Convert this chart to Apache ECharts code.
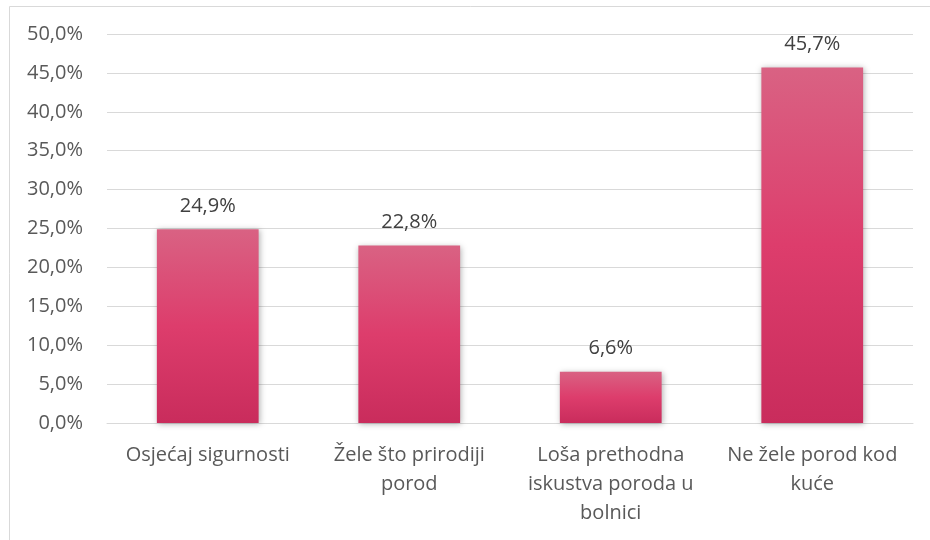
<!DOCTYPE html>
<html>
<head>
<meta charset="utf-8">
<script src="https://cdn.jsdelivr.net/npm/echarts@6/dist/echarts.min.js"></script>
<style>html,body{margin:0;padding:0;background:#fff}#c{width:930px;height:540px}</style>
</head>
<body>
<div id="c"></div>
<script>
var categories = ["Osjećaj sigurnosti", "Žele što prirodiji\nporod", "Loša prethodna\niskustva poroda u\nbolnici", "Ne žele porod kod\nkuće"];
var values = [24.9, 22.8, 6.6, 45.7];
var yMin = 0, yMax = 50, yStep = 5;

var chart = echarts.init(document.getElementById('c'), null, {renderer: 'canvas'});
var font = '"Open Sans", "Noto Sans", sans-serif';
chart.setOption({
  animation: false,
  backgroundColor: '#fff',
  graphic: [{
    type: 'rect', left: 7, top: 4, shape: {x: 0, y: 0, width: 940, height: 560},
    style: {fill: 'none', stroke: '#d9d9d9', lineWidth: 1}, silent: true
  }],
  grid: {left: 107, right: 17, top: 34, bottom: 117},
  xAxis: {
    type: 'category', data: categories,
    axisLine: {show: true, lineStyle: {color: '#d9d9d9', width: 1}},
    axisTick: {show: false},
    axisLabel: {color: '#595959', fontSize: 20, fontFamily: font, lineHeight: 29, margin: 18, interval: 0}
  },
  yAxis: {
    type: 'value', min: yMin, max: yMax, interval: yStep,
    axisLine: {show: false}, axisTick: {show: false},
    splitLine: {lineStyle: {color: '#d9d9d9', width: 1}},
    axisLabel: {color: '#595959', fontSize: 20, fontFamily: font, margin: 24,
      formatter: function (v) { return v.toFixed(1).replace('.', ',') + '%'; }}
  },
  series: [{
    type: 'bar', data: values, barWidth: '50.5%',
    itemStyle: {
      color: new echarts.graphic.LinearGradient(0, 0, 0, 1, [
        {offset: 0, color: '#d96283'},
        {offset: 0.5, color: '#dd3d6c'},
        {offset: 1, color: '#c92c5c'}
      ]),
      shadowColor: 'rgba(0,0,0,0.3)', shadowBlur: 6, shadowOffsetX: 1, shadowOffsetY: 1
    },
    label: {show: true, position: 'top', distance: 13, color: '#404040', fontSize: 20, fontFamily: font,
      formatter: function (p) { return p.value.toFixed(1).replace('.', ',') + '%'; }}
  }]
});
</script>
</body>
</html>
